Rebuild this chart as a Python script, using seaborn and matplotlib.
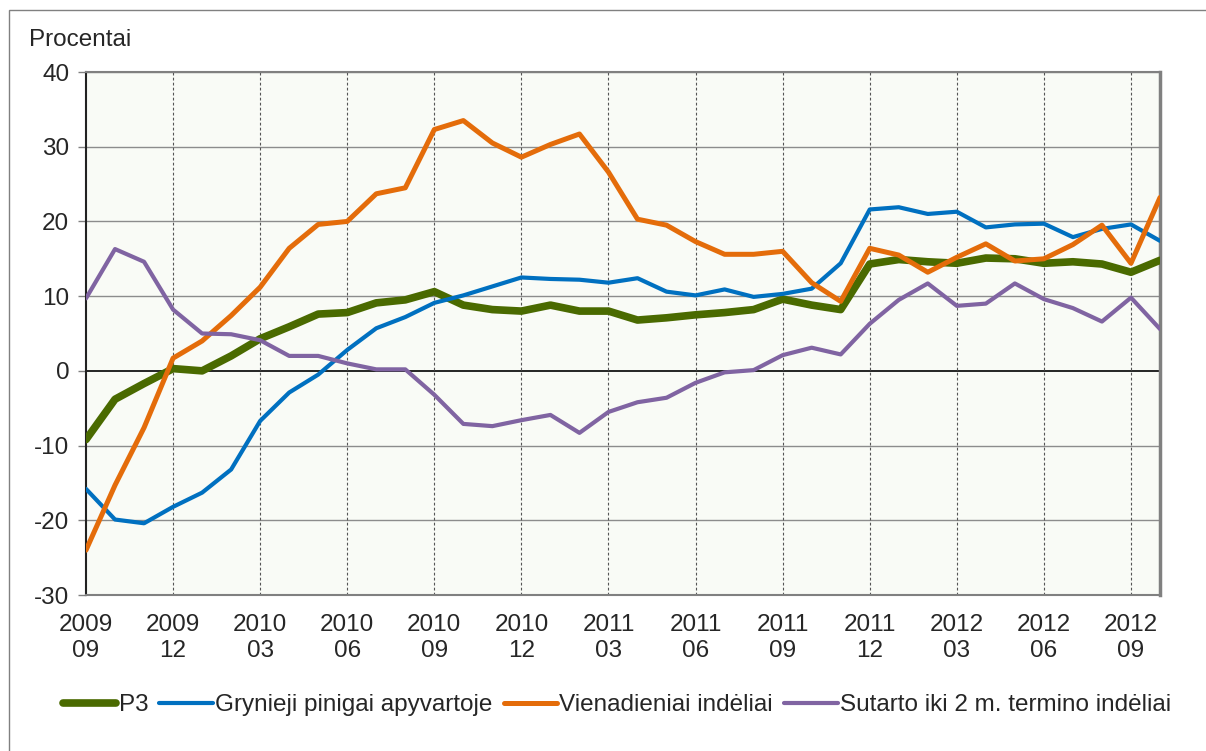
import matplotlib
matplotlib.use("Agg")
import matplotlib.pyplot as plt
import seaborn as sns
import pandas as pd
import numpy as np
from matplotlib.patches import Rectangle

sns.set_theme(style="white")
plt.rcParams['font.family'] = ['Liberation Sans', 'DejaVu Sans']
plt.rcParams['axes.unicode_minus'] = False

# Mėnesiai nuo 2009-09 iki 2012-10
menesiai = pd.period_range("2009-09", "2012-10", freq="M")

p3 = [-9.2, -3.8, -1.7, 0.3, 0.0, 2.0, 4.3, 5.9, 7.6, 7.8, 9.1, 9.5, 10.6,
      8.8, 8.2, 8.0, 8.8, 8.0, 8.0, 6.8, 7.1, 7.5, 7.8, 8.2, 9.6, 8.8, 8.2,
      14.3, 14.9, 14.6, 14.4, 15.1, 15.0, 14.4, 14.6, 14.3, 13.2, 14.8]
grynieji = [-15.8, -19.9, -20.4, -18.2, -16.3, -13.2, -6.7, -2.9, -0.5, 2.8,
            5.7, 7.2, 9.1, 10.1, 11.3, 12.5, 12.3, 12.2, 11.8, 12.4, 10.6,
            10.1, 10.9, 9.9, 10.3, 11.0, 14.4, 21.6, 21.9, 21.0, 21.3, 19.2,
            19.6, 19.7, 17.9, 19.0, 19.6, 17.4]
vienadieniai = [-24.0, -15.3, -7.6, 1.7, 4.0, 7.4, 11.2, 16.4, 19.6, 20.0,
                23.7, 24.5, 32.3, 33.5, 30.5, 28.6, 30.3, 31.7, 26.6, 20.3,
                19.5, 17.3, 15.6, 15.6, 16.0, 11.8, 9.3, 16.4, 15.5, 13.2,
                15.2, 17.0, 14.7, 15.0, 16.9, 19.5, 14.4, 23.2]
sutarto = [9.7, 16.3, 14.6, 8.2, 5.0, 4.9, 4.1, 2.0, 2.0, 1.0, 0.2, 0.2, -3.2,
           -7.1, -7.4, -6.6, -5.9, -8.3, -5.5, -4.2, -3.6, -1.6, -0.2, 0.1,
           2.1, 3.1, 2.2, 6.3, 9.5, 11.7, 8.7, 9.0, 11.7, 9.6, 8.4, 6.6, 9.8,
           5.6]

serijos = ["P3", "Grynieji pinigai apyvartoje", "Vienadieniai indėliai",
           "Sutarto iki 2 m. termino indėliai"]
spalvos = ["#4A6A00", "#0070C0", "#E46C0A", "#8064A2"]
storiai = [5.5, 3.0, 3.6, 3.0]

df = pd.DataFrame({"men": np.arange(len(menesiai)), "P3": p3,
                   serijos[1]: grynieji, serijos[2]: vienadieniai,
                   serijos[3]: sutarto})

fig = plt.figure(figsize=(12.06, 7.51), dpi=100)
ax = fig.add_axes([86 / 1206, 1 - 595 / 751, (1160 - 86) / 1206, (595 - 72) / 751])
ax.set_facecolor("#F9FBF6")

# išorinis rėmelis
fig.patches.append(Rectangle((9 / 1206, -0.1), 1.1, 1 - 10 / 751 + 0.1,
                             transform=fig.transFigure, fill=False,
                             edgecolor="#808080", linewidth=1.0))

# tinklelis
for v in range(-30, 41, 10):
    ax.axhline(v, color="black" if v == 0 else "#8C8C8C",
               linewidth=1.2 if v == 0 else 1.0, zorder=1)
ticks_x = np.arange(0, len(menesiai), 3)
for t in ticks_x[1:]:
    ax.axvline(t, color="#555555", linewidth=0.8, linestyle=(0, (2.5, 2)), zorder=1)

for s, c, w in zip(serijos, spalvos, storiai):
    sns.lineplot(data=df, x="men", y=s, ax=ax, color=c, linewidth=w,
                 label=s, zorder=3)

ax.set_xlim(0, len(menesiai) - 1)
ax.set_ylim(-30, 40)
ax.set_yticks(range(-30, 41, 10))
ax.set_xticks(ticks_x)
ax.set_xticklabels([f"{menesiai[i].year}\n{menesiai[i].month:02d}" for i in ticks_x],
                   fontsize=17.5, linespacing=1.2)
ax.tick_params(axis="y", labelsize=17.5, length=6, color="#808080", width=1, pad=6, left=True)
ax.tick_params(axis="x", length=0, pad=14)
ax.set_xlabel("")
ax.set_ylabel("")

for side in ["top", "bottom"]:
    ax.spines[side].set_color("#808080")
    ax.spines[side].set_linewidth(1.5)
ax.spines["right"].set_color("#808080")
ax.spines["right"].set_linewidth(2.5)
ax.spines["left"].set_color("#222222")
ax.spines["left"].set_linewidth(1.5)

fig.text(29 / 1206, 1 - 40 / 751, "Procentai", fontsize=17.5, va="center", ha="left")

leg = ax.legend(loc="center", bbox_to_anchor=(617 / 1206, 1 - 705 / 751),
                bbox_transform=fig.transFigure, ncol=4, frameon=False,
                fontsize=17.5, handlelength=2.2, handletextpad=0.1,
                columnspacing=0.45)

fig.savefig("out.png", dpi=100)
